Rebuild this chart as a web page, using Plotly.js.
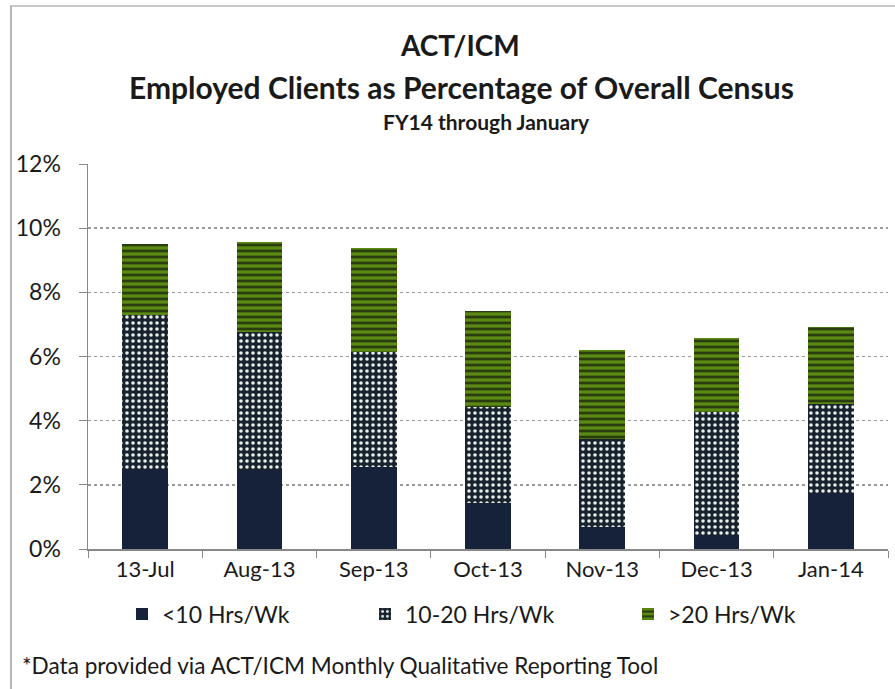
<!DOCTYPE html>
<html><head><meta charset="utf-8">
<script src="https://cdn.plot.ly/plotly-3.0.1.min.js"></script>
<style>
html,body{margin:0;padding:0;background:#fff;}
#wrap{position:relative;width:895px;height:689px;}
#chart{position:absolute;left:0;top:0;width:895px;height:689px;}
#border{position:absolute;left:10px;top:5px;width:884px;height:690px;border-left:2px solid #b5b5b5;border-top:2px solid #c8c8c8;pointer-events:none;}
</style></head>
<body><div id="wrap"><div id="chart"></div><div id="border"></div></div>
<script>
const categories = ['13-Jul','Aug-13','Sep-13','Oct-13','Nov-13','Dec-13','Jan-14'];
const under10 = [2.45, 2.44, 2.55, 1.42, 0.68, 0.44, 1.71];
const mid10to20 = [4.85, 4.33, 3.60, 3.01, 2.75, 3.84, 2.81];
const over20 = [2.20, 2.81, 3.24, 2.99, 2.77, 2.31, 2.39];
const seriesNames = ['<10 Hrs/Wk','10-20 Hrs/Wk','>20 Hrs/Wk'];
const yTicks = [0,2,4,6,8,10,12];
const yTickLabels = ['0%','2%','4%','6%','8%','10%','12%'];

const FONT = 'Lato, "Open Sans", sans-serif';
const traces = [
  {type:'bar', name:seriesNames[0], x:categories, y:under10, width:0.4, legend:'legend',
   marker:{color:'#15223a', line:{width:0}}},
  {type:'bar', name:seriesNames[1], x:categories, y:mid10to20, width:0.4, legend:'legend2',
   marker:{color:'#18232f', line:{width:0},
     pattern:{shape:'.', fgcolor:'#e8efe8', bgcolor:'#18232f', size:6, solidity:0.28, fillmode:'replace'}}},
  {type:'bar', name:seriesNames[2], x:categories, y:over20, width:0.4, legend:'legend3',
   marker:{color:'#4d7a12', line:{width:0},
     pattern:{shape:'-', fgcolor:'#2a3d0e', bgcolor:'#5a8a14', size:6, solidity:0.45, fillmode:'replace'}}}
];

const px2x = p => (p-88)/800;
const py2y = p => (549-p)/385;
const legBase = {orientation:'h', yanchor:'middle', xanchor:'left', y:py2y(614),
  font:{size:23, family:FONT}, itemwidth:30, bgcolor:'rgba(0,0,0,0)'};

const layout = {
  width:895, height:689,
  margin:{l:88, r:7, t:164, b:140},
  barmode:'stack',
  paper_bgcolor:'#ffffff', plot_bgcolor:'#ffffff',
  font:{family:FONT, color:'#1a1a1a', size:21},
  showlegend:true,
  legend:Object.assign({}, legBase, {x:px2x(122)}),
  legend2:Object.assign({}, legBase, {x:px2x(365)}),
  legend3:Object.assign({}, legBase, {x:px2x(628)}),
  xaxis:{type:'category', tickson:'boundaries', ticks:'outside', ticklen:7, tickcolor:'#888',
    showline:true, linecolor:'#888', linewidth:1.5, showgrid:false,
    tickfont:{size:22, family:FONT}, range:[-0.5,6.5]},
  yaxis:{range:[0,12], tickvals:yTicks, ticktext:yTickLabels, ticks:'outside', ticklen:8,
    tickcolor:'#888', showline:true, linecolor:'#888', linewidth:1.5,
    showgrid:true, gridcolor:'#999999', griddash:'dot', gridwidth:1.5, zeroline:false,
    tickfont:{size:23, family:FONT}, ticklabelstandoff:13},
  title:{text:''},
  annotations:[
    {text:'<b>ACT/ICM</b>', xref:'paper', yref:'paper', x:px2x(460), y:py2y(45), xanchor:'center', yanchor:'middle', showarrow:false, font:{size:28, family:FONT, color:'#1a1a1a'}},
    {text:'<b>Employed Clients as Percentage of Overall Census</b>', xref:'paper', yref:'paper', x:px2x(461), y:py2y(87), xanchor:'center', yanchor:'middle', showarrow:false, font:{size:30, family:FONT, color:'#1a1a1a'}},
    {text:'<b>FY14 through January</b>', xref:'paper', yref:'paper', x:px2x(486), y:py2y(122), xanchor:'center', yanchor:'middle', showarrow:false, font:{size:21, family:FONT, color:'#1a1a1a'}},
    {text:'*Data provided via ACT/ICM Monthly Qualitative Reporting Tool', xref:'paper', yref:'paper', x:px2x(20), y:py2y(665), xanchor:'left', yanchor:'middle', showarrow:false, font:{size:22.6, family:FONT, color:'#1a1a1a'}}
  ]
};
Plotly.newPlot('chart', traces, layout, {displayModeBar:false, staticPlot:true});
</script></body></html>
